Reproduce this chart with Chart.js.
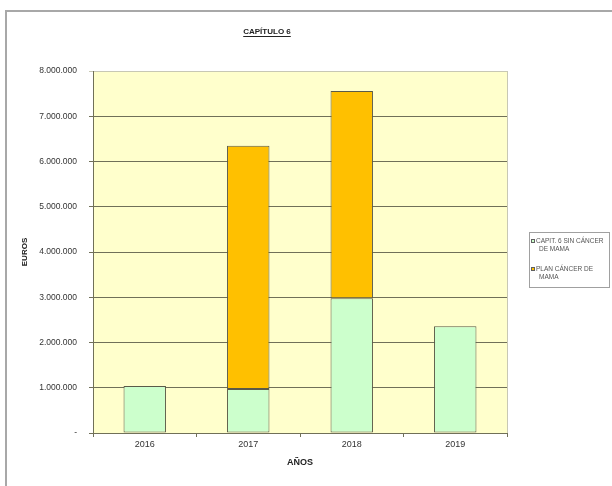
<!DOCTYPE html>
<html>
<head>
<meta charset="utf-8">
<script src="https://cdn.jsdelivr.net/npm/chart.js@4.4.0/dist/chart.umd.min.js"></script>
<style>
  html, body { margin: 0; padding: 0; background: #fff; }
  #frame { position: absolute; left: 5px; top: 10px; width: 700px; height: 600px; border: 2px solid #a8a8a8; box-sizing: border-box; }
  #wrap { position: absolute; left: 0; top: 0; width: 612px; height: 486px; }
</style>
</head>
<body>
<div id="frame"></div>
<div id="wrap"><canvas id="chart" width="612" height="486"></canvas></div>
<script>
// values
const years = ['2016', '2017', '2018', '2019'];
const sinCancerMama = [1040000, 970000, 2980000, 2360000];
const planCancerMama = [null, 5380000, 4580000, null];
const seriesNames = [['CAPIT. 6 SIN CÁNCER', 'DE MAMA'], ['PLAN CÁNCER DE', 'MAMA']];
const seriesColors = ['#ccffcc', '#ffc000'];
const yMax = 8000000;
const yStep = 1000000;
const chartTitle = 'CAPÍTULO 6';

const FONT = '"Liberation Sans", Arial, sans-serif';
const gridDark = '#707058';
const gridLight = '#c8c8b4';

function formatEuros(v) {
    if (v === 0) return '-';
    return String(v).replace(/\B(?=(\d{3})+(?!\d))/g, '.');
}

const plotBackground = {
    id: 'plotBackground',
    beforeDraw(chart) {
        const { ctx, chartArea: a } = chart;
        ctx.save();
        ctx.fillStyle = '#ffffcc';
        ctx.fillRect(a.left, a.top, a.right - a.left, a.bottom - a.top);
        ctx.restore();
    },
    beforeDatasetsDraw(chart) {
        const { ctx, chartArea: a } = chart;
        ctx.save();
        ctx.strokeStyle = gridLight;
        ctx.lineWidth = 1;
        ctx.beginPath();
        ctx.moveTo(a.right + 0.5, a.top);
        ctx.lineTo(a.right + 0.5, a.bottom);
        ctx.stroke();
        ctx.restore();
    }
};

const titleAndLegend = {
    id: 'titleAndLegend',
    afterDraw(chart) {
        const ctx = chart.ctx;
        ctx.save();

        // underlined title
        ctx.font = 'bold 8px ' + FONT;
        ctx.fillStyle = '#222';
        ctx.textAlign = 'center';
        ctx.textBaseline = 'middle';
        ctx.fillText(chartTitle, 267, 32);
        const w = ctx.measureText(chartTitle).width;
        ctx.fillRect(267 - w / 2, 36, w, 1);

        // legend box on the right
        ctx.strokeStyle = '#a0a0a0';
        ctx.lineWidth = 1;
        ctx.strokeRect(529.5, 232.5, 80, 55);
        ctx.font = '6.5px ' + FONT;
        ctx.textAlign = 'left';
        chart.data.datasets.forEach((ds, i) => {
            const y = 241 + i * 28;
            ctx.fillStyle = ds.backgroundColor;
            ctx.fillRect(531, y - 2, 4, 4);
            ctx.strokeStyle = '#606060';
            ctx.strokeRect(531.5, y - 1.5, 3, 3);
            ctx.fillStyle = '#555';
            seriesNames[i].forEach((line, j) => {
                ctx.fillText(line, j === 0 ? 536 : 539, y + j * 8);
            });
        });
        ctx.restore();
    }
};

const ctx = document.getElementById('chart').getContext('2d');
const chart = new Chart(ctx, {
    type: 'bar',
    data: {
        labels: years,
        datasets: [{
            label: seriesNames[0].join(' '),
            data: sinCancerMama,
            backgroundColor: seriesColors[0],
            borderColor: '#5a5a48',
            borderWidth: 1,
            borderSkipped: false
        }, {
            label: seriesNames[1].join(' '),
            data: planCancerMama,
            backgroundColor: seriesColors[1],
            borderColor: '#5a5a48',
            borderWidth: 1,
            borderSkipped: false
        }]
    },
    options: {
        responsive: false,
        animation: false,
        layout: { padding: { left: 10, top: 71, right: 105, bottom: 18 } },
        datasets: { bar: { categoryPercentage: 1, barPercentage: 0.41 } },
        plugins: {
            legend: { display: false },
            title: { display: false },
            tooltip: { enabled: false }
        },
        scales: {
            x: {
                stacked: true,
                grid: { drawOnChartArea: false, tickLength: 4, color: gridDark },
                border: { color: gridDark },
                ticks: { color: '#333', font: { family: FONT, size: 9 }, padding: 2 },
                title: { display: true, text: 'AÑOS', color: '#222', font: { family: FONT, size: 9, weight: 'bold' }, padding: { top: 4, bottom: 0 } },
                afterFit(scale) { scale.height = 35; }
            },
            y: {
                stacked: true,
                min: 0,
                max: yMax,
                grid: {
                    tickLength: 4,
                    color: c => (c.tick && c.tick.value === yMax ? gridLight : gridDark)
                },
                border: { color: gridDark },
                ticks: {
                    stepSize: yStep,
                    color: '#333',
                    font: { family: FONT, size: 8.5 },
                    padding: 12,
                    callback: v => formatEuros(v)
                },
                title: { display: true, text: 'EUROS', color: '#222', font: { family: FONT, size: 8, weight: 'bold' }, padding: { top: 10, bottom: 0 } },
                afterFit(scale) { scale.width = 83; }
            }
        }
    },
    plugins: [plotBackground, titleAndLegend]
});
</script>
</body>
</html>
